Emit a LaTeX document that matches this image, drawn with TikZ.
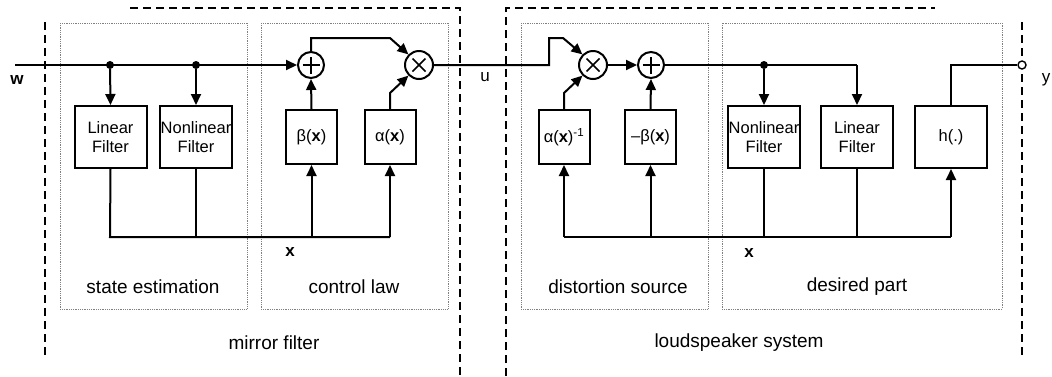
\documentclass[tikz,border=0pt]{standalone}
\usepackage{fontspec}
\setmainfont{Liberation Sans}
\usetikzlibrary{arrows.meta}
\tikzset{
 blk/.style={draw, line width=2pt, minimum width=72pt, minimum height=62pt, inner sep=0pt, align=center, font=\fontsize{16.5}{19}\selectfont},
 blks/.style={blk, minimum width=51pt, minimum height=54pt},
 sumnode/.style={draw, circle, line width=2pt, minimum size=26pt, inner sep=0pt,
   path picture={\draw[line width=1.2pt] ([xshift=-8.5pt]path picture bounding box.center) -- ([xshift=8.5pt]path picture bounding box.center) ([yshift=-8.5pt]path picture bounding box.center) -- ([yshift=8.5pt]path picture bounding box.center);}},
 mulnode/.style={draw, circle, line width=2pt, minimum size=28pt, inner sep=0pt,
   path picture={\draw[line width=1.5pt] ([shift={(-6.5pt,-6.5pt)}]path picture bounding box.center) -- ([shift={(6.5pt,6.5pt)}]path picture bounding box.center) ([shift={(-6.5pt,6.5pt)}]path picture bounding box.center) -- ([shift={(6.5pt,-6.5pt)}]path picture bounding box.center);}},
 sig/.style={line width=2pt},
 arr/.style={sig, -{Triangle[length=11pt,width=10pt]}},
 outer/.style={line width=1.9pt, dash pattern=on 8pt off 5pt},
 inner/.style={line width=0.8pt, densely dotted, gray},
 lab/.style={font=\fontsize{19}{21}\selectfont},
 sig lab/.style={font=\fontsize{17}{19}\selectfont},
 dot/.style={circle, fill, inner sep=0pt, minimum size=8pt},
 odot/.style={circle, draw, fill=white, line width=1.4pt, inner sep=0pt, minimum size=8pt},
}
\begin{document}
\begin{tikzpicture}[x=1pt,y=-1pt]
\useasboundingbox (0,0) rectangle (1052,376);
% outer dashed boxes
\draw[outer] (130,8) -- (460,8) -- (460,376);
\draw[outer] (45,22) -- (45,355);
\draw[outer] (506,376) -- (506,8) -- (935,8);
\draw[outer] (1022,22) -- (1022,355);
% inner dotted boxes
\draw[inner] (60,23) rectangle (247,309);
\draw[inner] (261,23) rectangle (448,309);
\draw[inner] (521,23) rectangle (708,309);
\draw[inner] (722,23) rectangle (1002,309);
% blocks
\node[blk] (lf1) at (110.5,137) {Linear\\Filter};
\node[blk] (nl1) at (196,137) {Nonlinear\\Filter};
\node[blks] (beta) at (311.5,137) {β(\textbf{x})};
\node[blks] (alpha) at (390,137) {α(\textbf{x})};
\node[blks] (ainv) at (564,137) {α(\textbf{x})\textsuperscript{-1}};
\node[blks] (mbeta) at (650.5,137) {–β(\textbf{x})};
\node[blk] (nl2) at (764,137) {Nonlinear\\Filter};
\node[blk] (lf2) at (857,137) {Linear\\Filter};
\node[blk] (h) at (951,137) {h(.)};
% sum / mult
\node[sumnode] (s1) at (311,65) {};
\node[mulnode] (m1) at (419,65) {};
\node[mulnode] (m2) at (593,65) {};
\node[sumnode] (s2) at (651,65) {};
% coordinates
\coordinate (win) at (15,65);
\node[dot] (d1) at (110,65) {};
\node[dot] (d2) at (196,65) {};
\coordinate (s1up) at (311,38);
\coordinate (m1a) at (390,38);
\coordinate (al1) at (390,93);
\coordinate (ub) at (549,65);
\coordinate (ut) at (549,38);
\coordinate (m2a) at (563,38);
\coordinate (al2) at (564,93);
\node[dot] (d3) at (764,65) {};
\coordinate (lf2t) at (857,65);
\coordinate (ht) at (951,65);
\node[odot] (yout) at (1022,65) {};
\coordinate (bus1L) at (110,237);
\coordinate (bus1R) at (390,237);
\coordinate (bus2L) at (564,237);
\coordinate (bus2R) at (951,237);
% mirror filter signals
\draw[arr] (win) -- (s1.west);
\draw[arr] (d1) -- (lf1.north);
\draw[arr] (d2) -- (nl1.north);
\draw[arr] (beta.north) -- (s1.south);
\draw[arr] (s1.north) -- (s1up) -- (m1a) -- (m1.north west);
\draw[arr] (alpha.north) -- (al1) -- (m1.south west);
\draw[sig] (lf1.south) -- (bus1L) -- (bus1R);
\draw[sig] (nl1.south) -- (nl1.south |- bus1L);
\draw[arr] (beta.south |- bus1L) -- (beta.south);
\draw[arr] (bus1R) -- (alpha.south);
% between
\draw[arr] (m1.east) -- (ub) -- (ut) -- (m2a) -- (m2.north west);
% loudspeaker signals
\draw[arr] (ainv.north) -- (al2) -- (m2.south west);
\draw[arr] (m2.east) -- (s2.west);
\draw[arr] (mbeta.north) -- (s2.south);
\draw[sig] (s2.east) -- (lf2t);
\draw[arr] (lf2t) -- (lf2.north);
\draw[arr] (d3) -- (nl2.north);
\draw[sig] (h.north) -- (ht) -- (yout.west);
\draw[sig] (bus2L) -- (bus2R);
\draw[arr] (bus2L) -- (ainv.south);
\draw[arr] (mbeta.south |- bus2L) -- (mbeta.south);
\draw[sig] (nl2.south) -- (nl2.south |- bus2L);
\draw[sig] (lf2.south) -- (lf2.south |- bus2L);
\draw[arr] (bus2R) -- (h.south);
% labels
\node[sig lab] (lw) at (17,80) {\textbf{w}};
\node[sig lab] (lu) at (485,77) {u};
\node[sig lab] (ly) at (1046,80) {y};
\node[sig lab] (lx1) at (290,252) {\textbf{x}};
\node[sig lab] (lx2) at (749,253) {\textbf{x}};
\node[lab] (t1) at (153,287) {state estimation};
\node[lab] (t2) at (354,287) {control law};
\node[lab] (t3) at (618,287) {distortion source};
\node[lab] (t4) at (857,287) {desired part};
\node[lab] (t5) at (274,343) {mirror filter};
\node[lab] (t6) at (739,343) {loudspeaker system};
\end{tikzpicture}
\end{document}
